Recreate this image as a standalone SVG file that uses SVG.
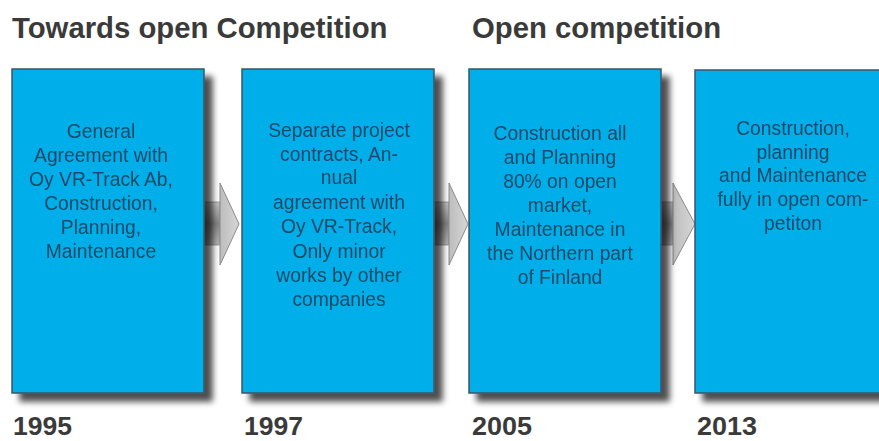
<svg xmlns="http://www.w3.org/2000/svg" width="879" height="441" viewBox="0 0 879 441">
<defs>
<filter id="sh" x="-10%" y="-10%" width="130%" height="130%">
<feGaussianBlur in="SourceAlpha" stdDeviation="3"/>
<feOffset dx="8" dy="8" result="b"/>
<feComponentTransfer><feFuncA type="linear" slope="0.7"/></feComponentTransfer>
<feMerge><feMergeNode/><feMergeNode in="SourceGraphic"/></feMerge>
</filter>
<linearGradient id="shaft" x1="0" y1="0" x2="0" y2="1">
<stop offset="0" stop-color="#c4c4c4"/>
<stop offset="0.5" stop-color="#858585"/>
<stop offset="1" stop-color="#b4b4b4"/>
</linearGradient>
<linearGradient id="head" x1="0" y1="0" x2="1" y2="0">
<stop offset="0" stop-color="#bdbdbd"/>
<stop offset="1" stop-color="#d6d6d6"/>
</linearGradient>
</defs>
<style>
.title{font-family:"Liberation Sans",Arial,sans-serif;font-weight:bold;font-size:29.3px;fill:#3a3a3a}
.year{font-family:"Liberation Sans",Arial,sans-serif;font-weight:bold;font-size:26px;fill:#3a3a3a}
.box{fill:#03aeea;stroke:#3c5566;stroke-width:1.5}
.txt{font-family:"Liberation Sans",Arial,sans-serif;font-size:19.3px;fill:#1a4a68;text-anchor:middle}
.shaft{fill:url(#shaft);stroke:#8a8a8a;stroke-width:0.8}
.head{fill:url(#head);stroke:#8a8a8a;stroke-width:1}
</style>
<rect width="879" height="441" fill="#ffffff"/>
<text class="title" x="12" y="38">Towards open Competition</text>
<text class="title" x="472" y="38">Open competition</text>

<g id="connectors">
<g id="arrow1">
<rect class="shaft" x="200" y="202" width="20" height="43"/>
<path class="head" d="M220,183 L239,224 L220,265 Z"/>
</g>
<g id="arrow2">
<rect class="shaft" x="430" y="202" width="19" height="43"/>
<path class="head" d="M449,183 L468,224 L449,265 Z"/>
</g>
<g id="arrow3">
<rect class="shaft" x="657" y="202" width="16" height="43"/>
<path class="head" d="M673,183 L695,224 L673,265 Z"/>
</g>
</g>

<g id="node1" filter="url(#sh)">
<rect class="box" x="12" y="69" width="192" height="324"/>
<text class="txt"><tspan x="101" y="138">General</tspan><tspan x="101" y="162">Agreement with</tspan><tspan x="101" y="185.5">Oy VR-Track Ab,</tspan><tspan x="101" y="209.5">Construction,</tspan><tspan x="101" y="233.5">Planning,</tspan><tspan x="101" y="257.5">Maintenance</tspan></text>
</g>
<g id="node2" filter="url(#sh)">
<rect class="box" x="242" y="69" width="192" height="324"/>
<text class="txt"><tspan x="339" y="137">Separate project</tspan><tspan x="339" y="160.5">contracts, An-</tspan><tspan x="339" y="184">nual</tspan><tspan x="339" y="208.5">agreement with</tspan><tspan x="339" y="232.5">Oy VR-Track,</tspan><tspan x="339" y="258">Only minor</tspan><tspan x="339" y="282">works by other</tspan><tspan x="339" y="306">companies</tspan></text>
</g>
<g id="node3" filter="url(#sh)">
<rect class="box" x="469" y="69" width="192" height="324"/>
<text class="txt"><tspan x="560" y="140">Construction all</tspan><tspan x="560" y="164">and Planning</tspan><tspan x="560" y="188">80% on open</tspan><tspan x="560" y="212">market,</tspan><tspan x="560" y="236">Maintenance in</tspan><tspan x="560" y="260">the Northern part</tspan><tspan x="560" y="284">of Finland</tspan></text>
</g>
<g id="node4" filter="url(#sh)">
<rect class="box" x="695" y="70" width="192" height="323"/>
<text class="txt"><tspan x="793" y="135">Construction,</tspan><tspan x="793" y="159">planning</tspan><tspan x="793" y="182">and Maintenance</tspan><tspan x="793" y="205.5">fully in open com-</tspan><tspan x="793" y="229.5">petiton</tspan></text>
</g>

<text class="year" x="13" y="435" textLength="59" lengthAdjust="spacingAndGlyphs">1995</text>
<text class="year" x="244" y="435" textLength="59" lengthAdjust="spacingAndGlyphs">1997</text>
<text class="year" x="472" y="435" textLength="60" lengthAdjust="spacingAndGlyphs">2005</text>
<text class="year" x="697" y="435" textLength="60" lengthAdjust="spacingAndGlyphs">2013</text>
</svg>
